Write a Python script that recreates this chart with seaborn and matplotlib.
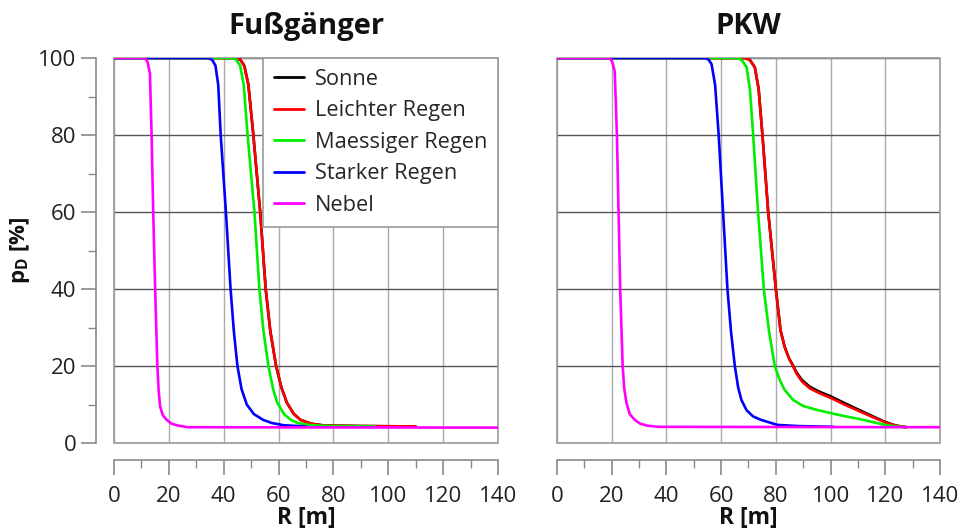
import numpy as np
import pandas as pd
import matplotlib
matplotlib.use("Agg")
import matplotlib.pyplot as plt
import seaborn as sns
from matplotlib.ticker import MultipleLocator
from matplotlib.patches import Rectangle

# ---------------- data ----------------
series_names = ["Sonne", "Leichter Regen", "Maessiger Regen", "Starker Regen", "Nebel"]
series_colors = ["#000000", "#ff0000", "#00ee00", "#0000ff", "#ff00ff"]
panel_titles = ["Fußgänger", "PKW"]

# Fußgänger
fg_sonne_r = [0, 44, 46, 47.5, 49, 50.8, 53.3, 55.3, 57, 59.1, 61, 63, 65.5, 68, 72, 76, 80, 90, 110]
fg_sonne_p = [100, 100, 99.6, 98, 93, 80, 60, 40, 29, 20, 14.5, 10.5, 7.6, 6, 5, 4.6, 4.5, 4.4, 4.3]
fg_leicht_r = [0, 44, 46, 47.5, 49, 50.8, 53.3, 55.3, 57, 59.1, 61, 63, 65.5, 68, 72, 76, 80, 90, 110]
fg_leicht_p = [100, 100, 99.6, 98, 93, 80, 60, 40, 29, 20, 14.5, 10.5, 7.6, 6, 5, 4.6, 4.5, 4.4, 4.3]
fg_maessig_r = [0, 42.9, 44.5, 46, 47.3, 48.7, 51.2, 53, 54.5, 56.3, 58, 59.5, 62, 64.5, 67, 71, 75, 80, 95]
fg_maessig_p = [100, 100, 99.6, 98, 93, 80, 60, 40, 29, 20, 14, 10.5, 7.5, 6, 5.2, 4.7, 4.5, 4.4, 4.3]
fg_stark_r = [0, 34.3, 35.8, 37, 38, 38.9, 40.8, 42.5, 43.7, 45, 46.5, 48.4, 51, 54.4, 57.5, 62, 70]
fg_stark_p = [100, 100, 99.5, 98, 93, 80, 60, 40, 29, 20, 14, 10, 7.5, 6, 5.2, 4.6, 4.3]
fg_nebel_r = [0, 11.3, 12.2, 13.1, 13.7, 14.3, 15, 15.8, 16.3, 16.8, 17.8, 19.2, 21, 23.5, 27, 140]
fg_nebel_p = [100, 100, 99, 96, 80, 60, 40, 20, 13.5, 9.5, 7.2, 6, 5, 4.5, 4.1, 4.0]

# PKW
pkw_sonne_r = [0, 68.6, 70.5, 72.3, 73.7, 75.1, 77.2, 80, 81.7, 83.2, 84.8, 86.3, 87.5, 89.5, 92.4, 96, 100.1, 105, 110.7, 115.5, 120.2, 124, 127.8]
pkw_sonne_p = [100, 100, 99.5, 97.6, 92, 80, 60, 40, 29.3, 25, 22, 20.1, 18.4, 16.4, 14.6, 13.3, 12.1, 10.4, 8.5, 6.9, 5.4, 4.5, 4.1]
pkw_leicht_r = [0, 68.6, 70.5, 72.3, 73.7, 75.1, 77.2, 80, 81.7, 83.2, 84.8, 86.3, 87.5, 89.5, 92.4, 96, 100.1, 105, 110.7, 115.5, 120.2, 124, 127.8]
pkw_leicht_p = [100, 100, 99.5, 97.6, 92, 80, 60, 40, 29.3, 25, 22, 19.9, 18.1, 16, 14.2, 12.9, 11.7, 10, 8.2, 6.7, 5.3, 4.5, 4.1]
pkw_maessig_r = [0, 65.6, 67.5, 69.3, 70.5, 71.7, 73.5, 75.6, 77.5, 79.6, 81.4, 83.2, 86.3, 90, 95, 100.1, 105, 110.7, 115, 120, 124, 127.6]
pkw_maessig_p = [100, 100, 99.5, 97.6, 92, 80, 60, 40, 29, 20, 16.4, 13.8, 11.2, 9.6, 8.6, 7.75, 7, 6.2, 5.5, 4.7, 4.3, 4.1]
pkw_stark_r = [0, 54, 55.4, 56.5, 57.8, 59.1, 60.7, 62.3, 63.6, 65, 66.2, 67.4, 69.3, 71.7, 74.6, 80.6, 88, 101]
pkw_stark_p = [100, 100, 99.6, 98.4, 93, 80, 60, 40, 29, 20, 14.5, 11.2, 8.5, 6.9, 6.0, 4.7, 4.4, 4.2]
pkw_nebel_r = [0, 19.3, 20.2, 21.1, 21.9, 22.5, 23.1, 24.0, 24.6, 25.4, 26.6, 28.4, 30.5, 33, 37, 140]
pkw_nebel_p = [100, 100, 99, 96.5, 80, 60, 40, 20, 14, 10.4, 7.5, 6, 5, 4.5, 4.2, 4.1]

panels = [
    [(fg_sonne_r, fg_sonne_p), (fg_leicht_r, fg_leicht_p), (fg_maessig_r, fg_maessig_p),
     (fg_stark_r, fg_stark_p), (fg_nebel_r, fg_nebel_p)],
    [(pkw_sonne_r, pkw_sonne_p), (pkw_leicht_r, pkw_leicht_p), (pkw_maessig_r, pkw_maessig_p),
     (pkw_stark_r, pkw_stark_p), (pkw_nebel_r, pkw_nebel_p)],
]

x_ticks = [0, 20, 40, 60, 80, 100, 120, 140]
y_ticks = [0, 20, 40, 60, 80, 100]

# ---------------- style ----------------
sns.set_style("white")
plt.rcParams["font.family"] = ["Open Sans", "DejaVu Sans"]
plt.rcParams["mathtext.fontset"] = "custom"
plt.rcParams["mathtext.rm"] = "Open Sans"
plt.rcParams["mathtext.bf"] = "Open Sans:bold"

W, H = 962, 532
fig = plt.figure(figsize=(W / 100, H / 100), dpi=100)
ax1 = fig.add_axes([114 / W, 1 - 443 / H, 384 / W, 385 / H])
ax2 = fig.add_axes([557 / W, 1 - 443 / H, 383 / W, 385 / H])

spine_col = "#8a8a8a"
for i, (ax, data, title) in enumerate(zip([ax1, ax2], panels, panel_titles)):
    rows = []
    for name, (r, p) in zip(series_names, data):
        rows.append(pd.DataFrame({"R": r, "p": p, "Wetter": name}))
    df = pd.concat(rows, ignore_index=True)
    sns.lineplot(data=df, x="R", y="p", hue="Wetter", hue_order=series_names,
                 palette=series_colors, estimator=None, sort=True, linewidth=1.9,
                 ax=ax, legend=(i == 0), zorder=3)
    ax.set_xlim(0, 140)
    ax.set_ylim(0, 100)
    ax.set_xticks(x_ticks)
    ax.set_yticks(y_ticks)
    ax.xaxis.set_minor_locator(MultipleLocator(10))
    ax.yaxis.set_minor_locator(MultipleLocator(10))
    ax.grid(False)
    ax.grid(axis="y", which="major", color="#555555", linewidth=1.0, zorder=1)
    ax.grid(axis="x", which="major", color="#ababab", linewidth=1.0, zorder=1)
    ax.set_axisbelow(True)
    ax.add_patch(Rectangle((0, 0), 1, 1, transform=ax.transAxes, fill=False,
                           edgecolor="#9a9a9a", linewidth=1.2, zorder=1.5, clip_on=False))
    for s in ["top", "right"]:
        ax.spines[s].set_visible(False)
    ax.spines["left"].set_position(("outward", 13))
    ax.spines["left"].set_bounds(0, 100)
    ax.spines["bottom"].set_position(("outward", 12))
    ax.spines["bottom"].set_bounds(0, 140)
    for s in ["left", "bottom"]:
        ax.spines[s].set_color(spine_col)
        ax.spines[s].set_linewidth(1.2)
    ax.tick_params(axis="both", which="major", length=11, width=1.2, color=spine_col,
                   labelsize=16, labelcolor="#222222")
    ax.tick_params(axis="both", which="minor", length=6, width=1.0, color=spine_col)
    ax.tick_params(axis="x", which="both", bottom=True, pad=8)
    ax.tick_params(axis="y", which="both", left=True, pad=3)
    ax.set_title(title, fontsize=21, fontweight="bold", pad=17, color="#111111")
    ax.set_xlabel("R [m]", fontsize=16.5, fontweight="bold", labelpad=-1, color="#111111")
    ax.set_ylabel("")

ax1.set_ylabel(r"$\mathbf{p}_{\mathbf{D}}$ [%]", fontsize=16, fontweight="bold",
               color="#111111")
ax1.yaxis.set_label_coords(-0.213, 0.5)
ax2.spines["left"].set_visible(False)
ax2.tick_params(axis="y", which="both", left=False, labelleft=False)

handles, labels = ax1.get_legend_handles_labels()
for h in handles:
    h.set_linewidth(2.0)
leg = ax1.legend(handles, labels, loc="upper right", borderaxespad=0, frameon=True,
                 fancybox=False, edgecolor="#9a9a9a", framealpha=1, fontsize=15.7,
                 handlelength=1.35, handletextpad=0.5, labelspacing=0.48, borderpad=0.5)
leg.get_frame().set_linewidth(1.2)
leg.set_zorder(5)

fig.savefig("out.png", dpi=100)
